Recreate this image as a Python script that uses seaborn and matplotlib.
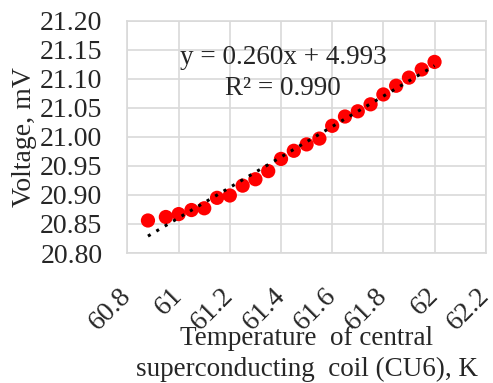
import numpy as np
import pandas as pd
import matplotlib
matplotlib.use("Agg")
import matplotlib.pyplot as plt
import seaborn as sns

temperature = [60.88, 60.95, 61.00, 61.05, 61.10, 61.15, 61.20, 61.25, 61.30,
               61.35, 61.40, 61.45, 61.50, 61.55, 61.60, 61.65, 61.70, 61.75,
               61.80, 61.85, 61.90, 61.95, 62.00]
voltage = [20.856, 20.862, 20.867, 20.874, 20.877, 20.895, 20.899, 20.916, 20.927,
           20.941, 20.962, 20.976, 20.987, 20.997, 21.019, 21.035, 21.044, 21.056,
           21.073, 21.088, 21.102, 21.116, 21.129]

x_ticks = [60.8, 61.0, 61.2, 61.4, 61.6, 61.8, 62.0, 62.2]
x_tick_labels = ["60.8", "61", "61.2", "61.4", "61.6", "61.8", "62", "62.2"]
y_ticks = [20.80, 20.85, 20.90, 20.95, 21.00, 21.05, 21.10, 21.15, 21.20]

equation_text = "y = 0.260x + 4.993\nR\u00b2 = 0.990"

df = pd.DataFrame({"T": temperature, "V": voltage})

sns.set_style("whitegrid")
plt.rcParams["font.family"] = ["Liberation Serif", "DejaVu Serif"]

fig = plt.figure(figsize=(4.93, 3.83), dpi=100)
ax = fig.add_axes([0.2586, 0.3394, 0.7266, 0.6066])

# linear trendline from the data
coef = np.polyfit(df["T"], df["V"], 1)
trend = pd.DataFrame({"T": [df["T"].min(), df["T"].max()]})
trend["V"] = np.polyval(coef, trend["T"])

sns.scatterplot(data=df, x="T", y="V", color="#ff0000", s=105, edgecolor="none", ax=ax, zorder=3)
sns.lineplot(data=trend, x="T", y="V", color="black", linestyle=(0, (1, 2.2)),
             linewidth=2.2, ax=ax, zorder=4)

ax.set_xlim(60.8, 62.2)
ax.set_ylim(20.80, 21.20)
ax.set_xticks(x_ticks)
ax.set_xticklabels(x_tick_labels, rotation=45, ha="right", va="center",
                   rotation_mode="anchor", fontsize=20)
ax.set_yticks(y_ticks)
ax.set_yticklabels([f"{v:.2f}" for v in y_ticks], fontsize=20)
ax.tick_params(axis="x", length=0, pad=28)
ax.tick_params(axis="y", length=0, pad=18)

ax.grid(True, color="#d9d9d9", linewidth=1.2)
for sp in ax.spines.values():
    sp.set_color("#d9d9d9")
    sp.set_linewidth(1.2)

ax.set_xlabel("Temperature  of central\nsuperconducting  coil (CU6), K",
              fontsize=19.5, linespacing=1.3)
ax.xaxis.label.set_va("center")
ax.xaxis.set_label_coords(0.5, -0.435)
ax.set_ylabel("Voltage, mV", fontsize=20, labelpad=2)

ax.text(0.434, 0.775, equation_text, transform=ax.transAxes, ha="center",
        va="center", fontsize=19.5, linespacing=1.3)

fig.savefig("out.png", dpi=100)
